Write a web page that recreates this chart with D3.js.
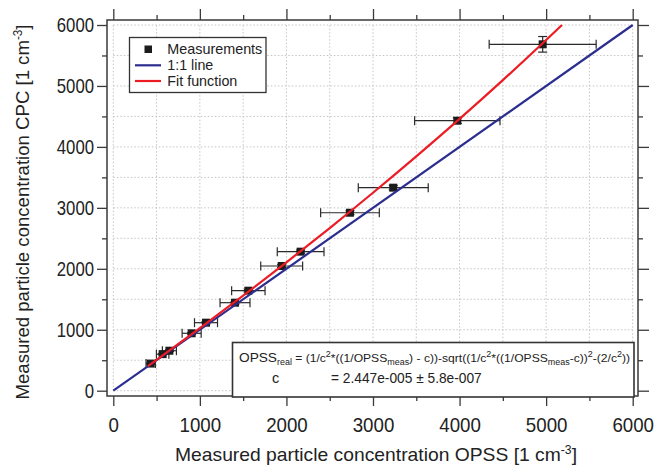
<!DOCTYPE html>
<html lang="en">
<head>
<meta charset="utf-8" />
<script src="https://cdn.jsdelivr.net/npm/d3@7"></script>
<style>
  body { margin: 0; background: #fff; }
  svg { font-family: "Liberation Sans", Arial, sans-serif; }
  .grid line { stroke: #c4c4c4; stroke-width: 1; stroke-dasharray: 1.5,2; }
  .axis line { stroke: #3a3a3a; stroke-width: 1.3; }
  .axis text { fill: #222; font-size: 21px; }
</style>
</head>
<body>
<svg id="chart" width="665" height="468"></svg>
<script>
var opss    = [432, 570, 648, 905, 1071, 1406, 1560, 1945, 2164, 2734, 3234, 3974, 4960];
var cpc     = [445, 600, 656, 942, 1116, 1444, 1641, 2046, 2281, 2920, 3331, 4430, 5683];
var opssErr = [54, 72, 81, 110, 133, 173, 193, 242, 270, 339, 404, 493, 618];
var cpcErr  = [10, 12, 13, 15, 17, 20, 22, 25, 27, 32, 36, 45, 128];

// fit curve and 1:1 line
var fitX = [400, 500, 1000, 1500, 2000, 2500, 3000, 3500, 4000, 4500, 5000, 5183];
var fitY = [404, 506, 1025, 1558, 2106, 2669, 3248, 3845, 4460, 5096, 5754, 6000];
var lineX = [0, 6000];
var lineY = [0, 6000];

var majorTicks = [0, 1000, 2000, 3000, 4000, 5000, 6000];
var minorTicks = [500, 1500, 2500, 3500, 4500, 5500];
var gridTicks = [0, 500, 1000, 1500, 2000, 2500, 3000, 3500, 4000, 4500, 5000, 5500, 6000];

var svg = d3.select("#chart");

var x = d3.scaleLinear().domain([0, 6000]).range([113.3, 632.7]);
var y = d3.scaleLinear().domain([0, 6000]).range([390.7, 25]);

var frame = {left: 107, right: 638, top: 20, bottom: 396};

// grid
var grid = svg.append("g").attr("class", "grid");
grid.selectAll("line.v").data(gridTicks).enter().append("line")
    .attr("x1", function(d) { return x(d); }).attr("x2", function(d) { return x(d); })
    .attr("y1", y(0)).attr("y2", y(6000));
grid.selectAll("line.h").data(gridTicks).enter().append("line")
    .attr("y1", function(d) { return y(d); }).attr("y2", function(d) { return y(d); })
    .attr("x1", x(0)).attr("x2", x(6000));

// axes
function addAxis(axis, tr, values, size, labels) {
  var g = svg.append("g").attr("class", "axis").attr("transform", tr)
      .call(axis.tickValues(values).tickSize(size).tickSizeOuter(0)
        .tickFormat(labels ? d3.format("d") : ""));
  g.select(".domain").remove();
  return g;
}
var bx = addAxis(d3.axisBottom(x).tickPadding(11), "translate(0," + frame.bottom + ")", majorTicks, 10, true);
addAxis(d3.axisBottom(x), "translate(0," + frame.bottom + ")", minorTicks, 5, false);
var ly = addAxis(d3.axisLeft(y).tickPadding(3), "translate(" + frame.left + ",0)", majorTicks, 10, true);
addAxis(d3.axisLeft(y), "translate(" + frame.left + ",0)", minorTicks, 5, false);
addAxis(d3.axisTop(x), "translate(0," + frame.top + ")", majorTicks, 11, false);
addAxis(d3.axisTop(x), "translate(0," + frame.top + ")", minorTicks, 5, false);
addAxis(d3.axisRight(y), "translate(" + frame.right + ",0)", majorTicks, 11, false);
addAxis(d3.axisRight(y), "translate(" + frame.right + ",0)", minorTicks, 5, false);

// narrow tick labels
bx.selectAll("text").attr("lengthAdjust", "spacingAndGlyphs")
  .attr("textLength", function(d) { return String(d).length * 10.4; });
ly.selectAll("text").attr("lengthAdjust", "spacingAndGlyphs")
  .attr("textLength", function(d) { return String(d).length * 9.3; });

svg.append("rect")
    .attr("x", frame.left).attr("y", frame.top)
    .attr("width", frame.right - frame.left).attr("height", frame.bottom - frame.top)
    .attr("fill", "none").attr("stroke", "#3a3a3a").attr("stroke-width", 1.5);

// error bars
var pts = opss.map(function(d, i) { return {x: d, y: cpc[i], ex: opssErr[i], ey: cpcErr[i]}; });
var eb = svg.append("g").attr("stroke", "#2a2a2a").attr("stroke-width", 1.2).attr("fill", "none");
var cap = 4.5;
pts.forEach(function(p) {
  var cx = x(p.x), cy = y(p.y);
  eb.append("line").attr("x1", x(p.x - p.ex)).attr("x2", x(p.x + p.ex)).attr("y1", cy).attr("y2", cy);
  eb.append("line").attr("x1", x(p.x - p.ex)).attr("x2", x(p.x - p.ex)).attr("y1", cy - cap).attr("y2", cy + cap);
  eb.append("line").attr("x1", x(p.x + p.ex)).attr("x2", x(p.x + p.ex)).attr("y1", cy - cap).attr("y2", cy + cap);
  eb.append("line").attr("x1", cx).attr("x2", cx).attr("y1", y(p.y - p.ey)).attr("y2", y(p.y + p.ey));
  eb.append("line").attr("x1", cx - cap).attr("x2", cx + cap).attr("y1", y(p.y - p.ey)).attr("y2", y(p.y - p.ey));
  eb.append("line").attr("x1", cx - cap).attr("x2", cx + cap).attr("y1", y(p.y + p.ey)).attr("y2", y(p.y + p.ey));
});

// markers
svg.append("g").selectAll("rect").data(pts).enter().append("rect")
    .attr("x", function(d) { return x(d.x) - 4; })
    .attr("y", function(d) { return y(d.y) - 4; })
    .attr("width", 8).attr("height", 8)
    .attr("fill", "#1c1c1c");

// lines
var line = d3.line().x(function(d) { return x(d[0]); }).y(function(d) { return y(d[1]); });
svg.append("path").datum(d3.zip(lineX, lineY)).attr("d", line)
    .attr("fill", "none").attr("stroke", "#2b2e8f").attr("stroke-width", 2.2);
svg.append("path").datum(d3.zip(fitX, fitY)).attr("d", line.curve(d3.curveMonotoneX))
    .attr("fill", "none").attr("stroke", "#ec1c24").attr("stroke-width", 2.2);

// legend
var lg = svg.append("g");
lg.append("rect").attr("x", 129.5).attr("y", 37.5).attr("width", 136.5).attr("height", 55)
    .attr("fill", "#fff").attr("stroke", "#333").attr("stroke-width", 1.3);
lg.append("rect").attr("x", 144.5).attr("y", 45.5).attr("width", 7.5).attr("height", 7.5).attr("fill", "#1c1c1c");
lg.append("line").attr("x1", 135).attr("x2", 161).attr("y1", 65.3).attr("y2", 65.3)
    .attr("stroke", "#2b2e8f").attr("stroke-width", 2.2);
lg.append("line").attr("x1", 135).attr("x2", 161).attr("y1", 81).attr("y2", 81)
    .attr("stroke", "#ec1c24").attr("stroke-width", 2.2);
var legendText = [["Measurements", 54, 95], ["1:1 line", 69.5, 46], ["Fit function", 86, 70]];
legendText.forEach(function(t) {
  lg.append("text").attr("x", 167.3).attr("y", t[1]).attr("font-size", 14.5).attr("fill", "#222")
    .attr("textLength", t[2]).attr("lengthAdjust", "spacingAndGlyphs").text(t[0]);
});

// fit box
var fb = svg.append("g");
fb.append("rect").attr("x", 232.5).attr("y", 342.5).attr("width", 401.5).attr("height", 54.5)
    .attr("fill", "#fff").attr("stroke", "#333").attr("stroke-width", 1.6);
var f1 = fb.append("text").attr("x", 239).attr("y", 361.7).attr("fill", "#222").attr("font-size", 11.5)
    .attr("textLength", 391).attr("lengthAdjust", "spacingAndGlyphs");
var parts = [
  ["OPSS", 0, 13], ["real", 3.5, 8.5], [" = (1/c", 0, 11.5], ["2", -5, 8.5], ["*((1/OPSS", 0, 11.5],
  ["meas", 3.5, 8.5], [") - c))-sqrt((1/c", 0, 11.5], ["2", -5, 8.5], ["*((1/OPSS", 0, 11.5],
  ["meas", 3.5, 8.5], ["-c))", 0, 11.5], ["2", -5, 8.5], ["-(2/c", 0, 11.5], ["2", -5, 8.5], ["))", 0, 11.5]
];
var shift = 0;
parts.forEach(function(p) {
  f1.append("tspan").attr("dy", p[1] - shift).attr("font-size", p[2]).text(p[0]);
  shift = p[1];
});
fb.append("text").attr("x", 272).attr("y", 383.3).attr("font-size", 14.5).attr("fill", "#222").text("c");
fb.append("text").attr("x", 331).attr("y", 383.3).attr("font-size", 14.5).attr("fill", "#222")
    .attr("textLength", 150.7).attr("lengthAdjust", "spacingAndGlyphs")
    .text("= 2.447e-005 \u00b1 5.8e-007");

// axis titles
var xt = svg.append("text").attr("x", 376).attr("y", 461).attr("text-anchor", "middle")
    .attr("font-size", 19).attr("fill", "#222")
    .attr("textLength", 402).attr("lengthAdjust", "spacingAndGlyphs");
xt.append("tspan").text("Measured particle concentration OPSS [1 cm");
xt.append("tspan").attr("font-size", 12).attr("dy", -7).text("-3");
xt.append("tspan").attr("dy", 7).text("]");

var yt = svg.append("text").attr("transform", "translate(29,212) rotate(-90)").attr("text-anchor", "middle")
    .attr("font-size", 19).attr("fill", "#222")
    .attr("textLength", 375).attr("lengthAdjust", "spacingAndGlyphs");
yt.append("tspan").text("Measured particle concentration CPC [1 cm");
yt.append("tspan").attr("font-size", 12).attr("dy", -7).text("-3");
yt.append("tspan").attr("dy", 7).text("]");
</script>
</body>
</html>
